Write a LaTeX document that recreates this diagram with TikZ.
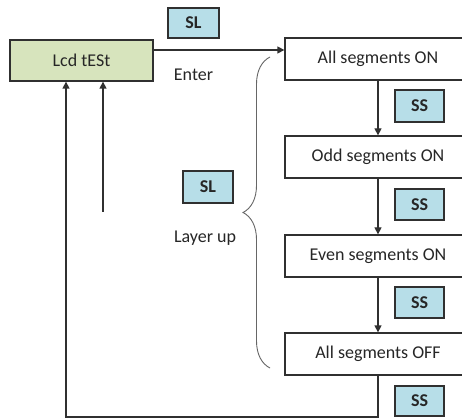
\documentclass[tikz,border=0pt]{standalone}
\usepackage{fontspec}
\setmainfont{Carlito}
\usetikzlibrary{arrows.meta,decorations.pathreplacing}
\definecolor{boxgreen}{HTML}{D7E4BD}
\definecolor{boxblue}{HTML}{B7DEE8}
\definecolor{linec}{HTML}{303030}
\begin{document}
\begin{tikzpicture}[x=1pt,y=-1pt,
  every node/.style={font=\fontsize{18}{20}\selectfont, text=black!85},
  stepbox/.style={draw=linec, line width=1.3pt, fill=white, inner sep=0pt, minimum width=186pt, minimum height=42pt},
  keybox/.style={draw=linec, line width=1.3pt, fill=boxblue, inner sep=0pt, minimum width=49pt, minimum height=31pt, font=\fontsize{18}{20}\selectfont\bfseries},
  arr/.style={draw=linec, line width=1.3pt, -{Triangle[length=7pt,width=7pt]}},
  plain/.style={inner sep=0pt}]
\clip (0,0) rectangle (462,419);
\fill[white] (0,0) rectangle (462,419);
\node[draw=linec, line width=1.3pt, fill=boxgreen, inner sep=0pt, minimum width=143pt, minimum height=41pt] (lcd) at (81.5,60.5) {Lcd tESt};
\node[keybox, minimum width=51pt, minimum height=30pt] (sltop) at (193.5,23) {SL};
\node[plain] (enter) at (193.5,75) {Enter};
\node[stepbox] (on) at (378,59) {All segments ON};
\node[stepbox] (odd) at (378,157) {Odd segments ON};
\node[stepbox] (even) at (378,256) {Even segments ON};
\node[stepbox] (off) at (378,354) {All segments OFF};
\node[keybox, minimum height=32pt] (ss1) at (419.5,106) {SS};
\node[keybox] (ss2) at (419.5,204.5) {SS};
\node[keybox] (ss3) at (419.5,302.5) {SS};
\node[keybox, minimum height=30pt] (ss4) at (419.5,401) {SS};
\node[keybox, minimum width=50pt, minimum height=32pt] (sl2) at (208,187) {SL};
\node[plain] (layer) at (205,238) {Layer up};
\coordinate (e1) at (153,50);
\draw[arr] (lcd.east |- e1) -- (on.west |- e1);
\draw[arr] (on.south) -- (odd.north);
\draw[arr] (odd.south) -- (even.north);
\draw[arr] (even.south) -- (off.north);
\coordinate (r) at (66,417);
\draw[arr] (off.south) |- (r) -- (r |- lcd.south);
\coordinate (s) at (103,212);
\draw[arr] (s) -- (s |- lcd.south);
\draw[decorate, decoration={brace, amplitude=27pt}, draw=black!60, line width=0.9pt] (270,368) -- (270,57);
\end{tikzpicture}
\end{document}
